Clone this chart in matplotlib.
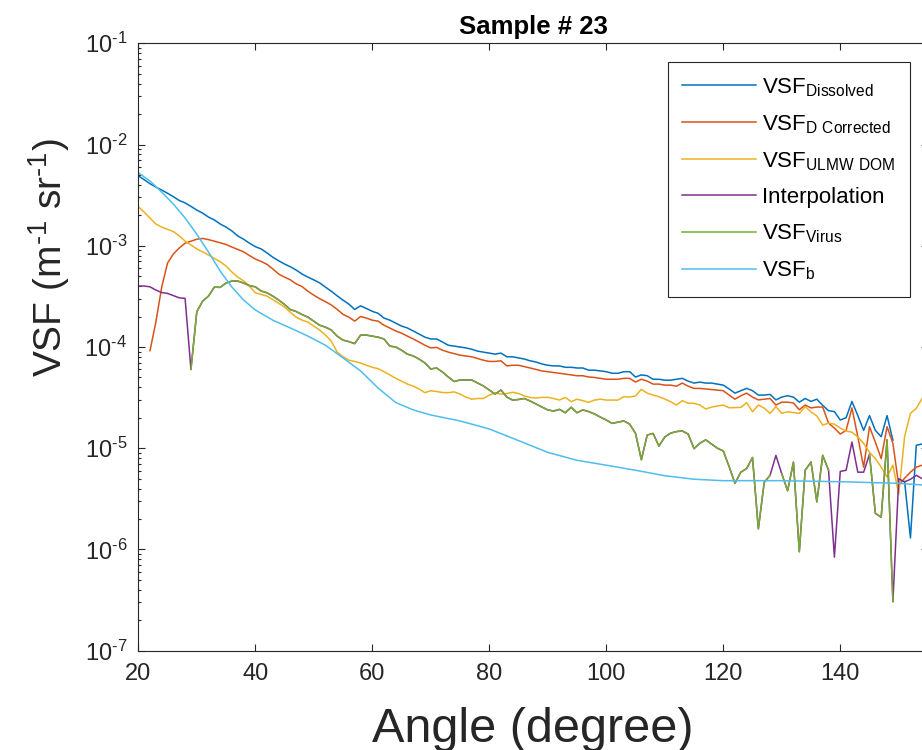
import numpy as np
import matplotlib
matplotlib.use("Agg")
import matplotlib.pyplot as plt
from matplotlib.ticker import LogLocator, NullFormatter, FixedLocator, FuncFormatter

# path to save graph
IMG_OUT = "out.png"

nan = np.nan

# scattering angle, one reading per degree
angle = np.arange(20, 156)

# VSF of the dissolved fraction (m^-1 sr^-1)
vsf_dissolved = [
	4.9e-3, 4.5e-3, 4.1e-3, 3.8e-3, 3.55e-3, 3.3e-3, 3.05e-3, 2.8e-3, 2.65e-3, 2.45e-3,
	2.25e-3, 2.1e-3, 1.92e-3, 1.8e-3, 1.64e-3, 1.53e-3, 1.4e-3, 1.25e-3, 1.16e-3, 1.06e-3,
	9.8e-4, 9.3e-4, 8.5e-4, 7.7e-4, 7.1e-4, 6.6e-4, 6.2e-4, 5.75e-4, 5.25e-4, 4.9e-4,
	4.6e-4, 4.3e-4, 3.9e-4, 3.55e-4, 3.2e-4, 2.9e-4, 2.65e-4, 2.35e-4, 2.55e-4, 2.4e-4,
	2.25e-4, 2.15e-4, 1.93e-4, 1.84e-4, 1.72e-4, 1.61e-4, 1.54e-4, 1.44e-4, 1.34e-4, 1.25e-4,
	1.2e-4, 1.2e-4, 1.12e-4, 1.04e-4, 1.02e-4, 1.0e-4, 9.8e-5, 9.5e-5, 9.1e-5, 8.9e-5,
	8.7e-5, 8.5e-5, 8.7e-5, 8.0e-5, 8.0e-5, 7.8e-5, 7.6e-5, 7.3e-5, 7.1e-5, 6.8e-5,
	6.6e-5, 6.5e-5, 6.5e-5, 6.3e-5, 6.3e-5, 6.2e-5, 6.2e-5, 5.9e-5, 5.9e-5, 5.8e-5,
	5.7e-5, 5.5e-5, 5.5e-5, 5.7e-5, 5.7e-5, 5.05e-5, 5.3e-5, 5.2e-5, 4.8e-5, 4.8e-5,
	4.7e-5, 4.7e-5, 4.8e-5, 4.9e-5, 4.6e-5, 4.4e-5, 4.5e-5, 4.4e-5, 4.4e-5, 4.3e-5,
	4.2e-5, 3.85e-5, 3.5e-5, 3.7e-5, 3.9e-5, 3.7e-5, 3.35e-5, 3.35e-5, 3.4e-5, 3.0e-5,
	3.2e-5, 3.3e-5, 3.2e-5, 2.85e-5, 3.1e-5, 2.9e-5, 3.05e-5, 2.65e-5, 2.35e-5, 2.3e-5,
	1.9e-5, 2.0e-5, 2.9e-5, 2.1e-5, 1.5e-5, 2.1e-5, 1.5e-5, 1.3e-5, 2.1e-5, 1.2e-5,
	nan, 4.7e-6, 1.3e-6, 1.07e-5, 1.1e-5, 1.1e-5,
]

# dissolved VSF after correction
vsf_d_corrected = [
	nan, nan, 9.2e-5, 1.76e-4, 3.9e-4, 6.75e-4, 8.3e-4, 9.5e-4, 1.06e-3, 1.11e-3,
	1.16e-3, 1.18e-3, 1.15e-3, 1.11e-3, 1.07e-3, 1.03e-3, 9.7e-4, 9.2e-4, 8.7e-4, 8.0e-4,
	7.4e-4, 7.0e-4, 6.55e-4, 5.9e-4, 5.25e-4, 4.9e-4, 4.6e-4, 4.2e-4, 3.95e-4, 3.55e-4,
	3.25e-4, 3.0e-4, 2.8e-4, 2.6e-4, 2.35e-4, 2.1e-4, 1.97e-4, 1.8e-4, 2.0e-4, 1.93e-4,
	1.84e-4, 1.8e-4, 1.64e-4, 1.54e-4, 1.44e-4, 1.37e-4, 1.28e-4, 1.2e-4, 1.12e-4, 1.04e-4,
	9.8e-5, 9.9e-5, 9.3e-5, 8.9e-5, 8.6e-5, 8.3e-5, 8.15e-5, 8.0e-5, 7.7e-5, 7.4e-5,
	7.2e-5, 7.2e-5, 7.3e-5, 6.5e-5, 6.6e-5, 6.6e-5, 6.4e-5, 6.2e-5, 6.0e-5, 5.8e-5,
	5.7e-5, 5.6e-5, 5.5e-5, 5.4e-5, 5.3e-5, 5.2e-5, 5.2e-5, 5.05e-5, 5.0e-5, 4.9e-5,
	4.8e-5, 4.8e-5, 4.8e-5, 4.9e-5, 4.9e-5, 4.5e-5, 4.8e-5, 4.6e-5, 4.3e-5, 4.3e-5,
	4.2e-5, 4.2e-5, 4.1e-5, 4.4e-5, 4.1e-5, 3.9e-5, 3.9e-5, 3.85e-5, 3.8e-5, 3.75e-5,
	3.7e-5, 3.35e-5, 3.05e-5, 3.3e-5, 3.5e-5, 3.2e-5, 3.0e-5, 3.05e-5, 3.1e-5, 2.67e-5,
	2.85e-5, 2.85e-5, 2.8e-5, 2.4e-5, 2.67e-5, 2.5e-5, 2.55e-5, 2.55e-5, 1.77e-5, 1.58e-5,
	1.38e-5, 1.5e-5, 2.5e-5, 1.3e-5, 6.5e-6, 1.63e-5, 1.15e-5, 7.9e-6, 1.63e-5, 1.12e-5,
	4.3e-6, 5.05e-6, 5.8e-6, 6.5e-6, 6.8e-6, 6.8e-6,
]

# ultra low molecular weight DOM
vsf_ulmw_dom = [
	2.43e-3, 2.15e-3, 1.88e-3, 1.64e-3, 1.53e-3, 1.45e-3, 1.38e-3, 1.25e-3, 1.11e-3, 1.02e-3,
	9.3e-4, 8.7e-4, 8.1e-4, 7.5e-4, 6.95e-4, 6.3e-4, 5.5e-4, 4.9e-4, 4.5e-4, 4.0e-4,
	3.43e-4, 3.3e-4, 3.18e-4, 2.94e-4, 2.7e-4, 2.48e-4, 2.2e-4, 1.97e-4, 1.84e-4, 1.76e-4,
	1.61e-4, 1.47e-4, 1.31e-4, 1.14e-4, 8.9e-5, 8.0e-5, 7.4e-5, 7.2e-5, 6.95e-5, 6.6e-5,
	6.3e-5, 6.1e-5, 5.7e-5, 5.3e-5, 4.9e-5, 4.6e-5, 4.3e-5, 4.1e-5, 3.85e-5, 3.54e-5,
	3.7e-5, 3.63e-5, 3.55e-5, 3.54e-5, 3.6e-5, 3.43e-5, 3.2e-5, 3.05e-5, 3.1e-5, 3.1e-5,
	3.35e-5, 3.5e-5, 3.43e-5, 3.47e-5, 3.57e-5, 3.47e-5, 3.28e-5, 3.17e-5, 3.13e-5, 3.18e-5,
	3.18e-5, 3.1e-5, 2.99e-5, 3.18e-5, 2.88e-5, 3.05e-5, 2.95e-5, 2.84e-5, 2.99e-5, 3.05e-5,
	2.99e-5, 2.99e-5, 2.99e-5, 3.23e-5, 3.2e-5, 3.28e-5, 3.82e-5, 3.5e-5, 3.35e-5, 3.23e-5,
	3.06e-5, 2.88e-5, 2.67e-5, 2.95e-5, 2.78e-5, 2.78e-5, 2.67e-5, 2.44e-5, 2.55e-5, 2.61e-5,
	2.67e-5, 2.51e-5, 2.52e-5, 2.53e-5, 2.82e-5, 2.29e-5, 2.67e-5, 2.49e-5, 2.21e-5, 2.58e-5,
	2.21e-5, 2.29e-5, 2.25e-5, 2.21e-5, 2.57e-5, 2.29e-5, 2.08e-5, 1.69e-5, 1.77e-5, 1.73e-5,
	1.58e-5, 1.48e-5, 1.44e-5, 1.29e-5, 1.12e-5, 9.1e-6, 7.9e-6, 6.5e-6, 5.2e-6, 6.8e-6,
	3.5e-6, 1.3e-5, 2.21e-5, 2.48e-5, 3.1e-5, 4.2e-5,
]

# virus VSF, nan where the value went negative
vsf_virus = [
	nan, nan, nan, nan, nan, nan, nan, nan, nan, 6.0e-5,
	2.23e-4, 2.84e-4, 3.18e-4, 3.9e-4, 3.88e-4, 4.28e-4, 4.48e-4, 4.48e-4, 4.28e-4, 4.04e-4,
	3.93e-4, 3.57e-4, 3.43e-4, 3.18e-4, 2.91e-4, 2.63e-4, 2.34e-4, 2.24e-4, 2.09e-4, 1.97e-4,
	1.8e-4, 1.64e-4, 1.57e-4, 1.47e-4, 1.28e-4, 1.17e-4, 1.13e-4, 1.08e-4, 1.31e-4, 1.31e-4,
	1.28e-4, 1.25e-4, 1.2e-4, 1.02e-4, 1.0e-4, 9.3e-5, 8.5e-5, 8.15e-5, 7.6e-5, 6.95e-5,
	6.06e-5, 6.2e-5, 5.66e-5, 5.05e-5, 4.56e-5, 4.72e-5, 4.72e-5, 4.72e-5, 4.41e-5, 4.12e-5,
	3.76e-5, 3.43e-5, 3.76e-5, 3.2e-5, 2.99e-5, 3.03e-5, 3.1e-5, 2.92e-5, 2.73e-5, 2.55e-5,
	2.39e-5, 2.33e-5, 2.42e-5, 2.24e-5, 2.54e-5, 2.24e-5, 2.39e-5, 2.3e-5, 2.18e-5, 2.03e-5,
	1.9e-5, 1.76e-5, 1.81e-5, 1.86e-5, 1.73e-5, 1.4e-5, 7.7e-6, 1.35e-5, 1.4e-5, 1.05e-5,
	1.29e-5, 1.41e-5, 1.46e-5, 1.48e-5, 1.38e-5, 9.9e-6, 1.12e-5, 1.21e-5, 1.1e-5, 1.0e-5,
	9.4e-6, 6.6e-6, 4.5e-6, 5.8e-6, 6.3e-6, 8.1e-6, 1.6e-6, 4.6e-6, 5.4e-6, nan,
	5.6e-6, 3.8e-6, 7.3e-6, 9.5e-7, 6.06e-6, 7.3e-6, 2.95e-6, 8.5e-6, 6.06e-6, nan,
	nan, nan, nan, nan, nan, 8.7e-6, 2.28e-6, 2.08e-6, 1.21e-5, 3.05e-7,
	nan, nan, nan, nan, nan, nan,
]

# interpolated values used where the virus VSF is missing
interp_angle = [20, 21, 22, 23, 24, 25, 26, 27, 28, 129,
	139, 140, 141, 142, 143, 144, 150, 151, 152, 153, 154, 155]
interp_value = [4.0e-4, 4.0e-4, 3.93e-4, 3.65e-4, 3.45e-4, 3.38e-4, 3.22e-4,
	3.06e-4, 3.02e-4, 8.5e-6, 8.4e-7, 5.9e-6, 6.06e-6, 1.15e-5, 5.8e-6,
	5.8e-6, 5.0e-6, 4.64e-6, 4.94e-6, 5.4e-6, 5.0e-6, 4.83e-6]

# particle backscattering VSF (smooth curve)
b_angle = [20, 22, 24, 26, 28, 30, 32, 34, 36, 38, 40, 43, 46, 49, 52, 55, 58,
	61, 64, 67, 70, 75, 80, 85, 90, 95, 100, 105, 110, 115, 120, 130, 140,
	150, 155]
vsf_b = [5.26e-3, 4.36e-3, 3.39e-3, 2.58e-3, 1.88e-3, 1.3e-3, 8.66e-4, 5.62e-4,
	3.91e-4, 2.91e-4, 2.32e-4, 1.84e-4, 1.54e-4, 1.28e-4, 1.04e-4, 7.8e-5,
	5.8e-5, 3.93e-5, 2.83e-5, 2.39e-5, 2.13e-5, 1.86e-5, 1.55e-5, 1.19e-5,
	9.1e-6, 7.6e-6, 6.8e-6, 6.06e-6, 5.35e-6, 4.94e-6, 4.78e-6, 4.78e-6,
	4.67e-6, 4.5e-6, 4.3e-6]

x_ticks = [20, 40, 60, 80, 100, 120, 140]

# matlab default line colours
colors = ["#0072BD", "#D95319", "#EDB120", "#7E2F8E", "#77AC30", "#4DBEEE"]

# matlab writes exponents with a short hyphen, not a wide minus
HYPHEN = "\u2010"


# pow_label()
#
# formats a log tick value as 10^n with a short hyphen for the sign
def pow_label(v, pos):
	n = int(round(np.log10(v)))
	return "10$^{%s}$" % str(n).replace("-", HYPHEN)


plt.rcParams["font.family"] = ["Liberation Sans", "DejaVu Sans"]
plt.rcParams["mathtext.default"] = "regular"
plt.rcParams["axes.unicode_minus"] = False

fig = plt.figure(figsize=(9.22, 7.5), dpi=100)
# axes run a little past the right edge, as in the cropped original
ax = fig.add_axes([0.15, 0.1324, 0.8565, 0.8099])

# interpolation line = virus line with the gaps filled in
interp_line = np.array(vsf_virus, dtype=float)
for a, v in zip(interp_angle, interp_value):
	interp_line[a - angle[0]] = v

lw = 1.1
ax.plot(angle, vsf_dissolved, color=colors[0], lw=lw,
	label=r"VSF$_{Dissolved}$")
ax.plot(angle, vsf_d_corrected, color=colors[1], lw=lw,
	label=r"VSF$_{D\ Corrected}$")
ax.plot(angle, vsf_ulmw_dom, color=colors[2], lw=lw,
	label=r"VSF$_{ULMW\ DOM}$")
ax.plot(angle, interp_line, color=colors[3], lw=lw, label="Interpolation")
ax.plot(angle, vsf_virus, color=colors[4], lw=lw, label=r"VSF$_{Virus}$")
ax.plot(b_angle, vsf_b, color=colors[5], lw=lw, label=r"VSF$_{b}$")

ax.set_yscale("log")
ax.set_ylim(1e-7, 1e-1)
ax.set_xlim(20, 155)
ax.xaxis.set_major_locator(FixedLocator(x_ticks))
ax.yaxis.set_major_locator(LogLocator(base=10, numticks=10))
ax.yaxis.set_major_formatter(FuncFormatter(pow_label))
ax.yaxis.set_minor_locator(LogLocator(base=10, subs=np.arange(2, 10),
	numticks=20))
ax.yaxis.set_minor_formatter(NullFormatter())

dark = "#262626"
for s in ax.spines.values():
	s.set_color(dark)
	s.set_linewidth(0.8)
ax.tick_params(which="both", direction="in", top=True, right=True,
	color=dark, labelcolor=dark, width=0.8)
ax.tick_params(which="major", length=5, labelsize=17)
ax.tick_params(axis="x", which="major", pad=9)
ax.tick_params(axis="y", which="major", pad=8)
ax.tick_params(which="minor", length=2.5)

ax.set_title("Sample # 23", fontsize=18.5, fontweight="bold", pad=7)
ax.set_xlabel("Angle (degree)", fontsize=35, color=dark, labelpad=15.5)
ax.set_ylabel("VSF (m$^{%s1}$ sr$^{%s1}$)" % (HYPHEN, HYPHEN), fontsize=28,
	color=dark)
ax.yaxis.set_label_coords(-0.084, 0.6465)

leg = ax.legend(loc="upper right", bbox_to_anchor=(0.977, 0.9697),
	borderaxespad=0, fontsize=16, handlelength=3.3, handletextpad=0.3,
	labelspacing=0.65, fancybox=False, framealpha=1, borderpad=0.65)
leg.get_frame().set_edgecolor(dark)
leg.get_frame().set_linewidth(0.8)

print("saving plot as \"{0}\"".format(IMG_OUT))
fig.savefig(IMG_OUT, dpi=100)
